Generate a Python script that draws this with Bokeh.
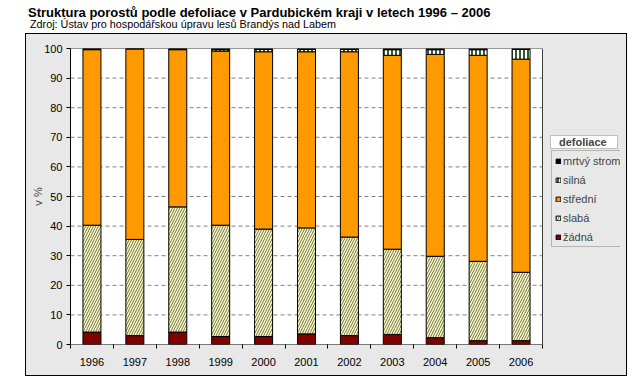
import numpy as np
from bokeh.plotting import figure
from bokeh.layouts import column
from bokeh.models import (ColumnDataSource, Range1d, FixedTicker, Legend, LegendItem, Div)
from bokeh.embed import file_html
from bokeh.resources import INLINE

years = ["1996", "1997", "1998", "1999", "2000", "2001", "2002", "2003", "2004", "2005", "2006"]
zadna = [4.2, 3.0, 4.2, 2.7, 2.7, 3.6, 3.0, 3.4, 2.3, 1.3, 1.3]
slaba = [36.1, 32.5, 42.3, 37.6, 36.3, 35.8, 33.3, 28.8, 27.5, 26.8, 23.1]
stredni = [59.3, 64.4, 53.1, 58.8, 59.9, 59.5, 62.6, 65.5, 68.2, 69.6, 72.0]
silna = [0.2, 0.0, 0.2, 0.5, 0.8, 0.8, 0.8, 1.9, 1.6, 1.9, 3.3]
mrtvy = [0.2, 0.1, 0.2, 0.4, 0.3, 0.3, 0.3, 0.4, 0.4, 0.4, 0.3]
series_names = ["žádná", "slabá", "střední", "silná", "mrtvý strom"]
legend_title = "defoliace"
y_ticks = [0, 10, 20, 30, 40, 50, 60, 70, 80, 90, 100]

title_text = "Struktura porostů podle defoliace v Pardubickém kraji v letech 1996 – 2006"
subtitle_text = "Zdroj: Ústav pro hospodářskou úpravu lesů Brandýs nad Labem"

FONT = "Liberation Sans"
GRAY = "#e8e8e8"

# ---- title strip (white band above the chart area) ----
title_html = (
    '<div style="position:relative;width:627px;height:33px;'
    "font-family:'Liberation Sans',Arial,sans-serif;color:black;\">"
    '<div style="position:absolute;left:28px;top:6px;font-weight:bold;font-size:13px;'
    f'line-height:13px;white-space:nowrap;">{title_text}</div>'
    '<div style="position:absolute;left:30px;top:19px;font-size:10.8px;'
    f'line-height:11px;white-space:nowrap;">{subtitle_text}</div></div>'
)
t = Div(text=title_html, width=627, height=33, margin=0)

# ---- main chart ----
n = len(years)
xc = np.arange(n) + 0.5
data = {"x": xc}
vals = [zadna, slaba, stredni, silna, mrtvy]
cum = np.zeros(n)
for i, v in enumerate(vals):
    data[f"b{i}"] = cum.copy()
    cum = cum + np.array(v)
    data[f"t{i}"] = cum.copy()
src = ColumnDataSource(data)

# frame spans the plot area plus the legend column (plot area = 472 of 550 px)
PLOT_W, FRAME_W = 472, 550
ymax = y_ticks[-1]
p = figure(width=602, height=343, output_backend="svg", toolbar_location=None,
           x_range=Range1d(0, n * FRAME_W / PLOT_W), y_range=Range1d(0, ymax),
           min_border_left=45, min_border_right=602 - 45 - FRAME_W,
           min_border_top=15, min_border_bottom=32,
           background_fill_color=GRAY, background_fill_alpha=0,
           border_fill_color=GRAY, border_fill_alpha=0,
           outline_line_color=None, margin=(0, 0, 0, 25),
           styles={"background-color": GRAY, "outline": "1px solid black",
                   "outline-offset": "-1px"})
p.grid.visible = False

# plot area (white) and dashed gridlines
p.quad(left=[0], right=[n], bottom=[0], top=[ymax], fill_color="white", line_color=None)
gy = y_ticks[1:-1]
p.segment(x0=[0] * len(gy), x1=[n] * len(gy), y0=gy, y1=gy,
          line_color="#808080", line_dash="4 3", line_width=1)

styles = [
    dict(fill_color="#800000"),
    dict(fill_color="#ffffcc", hatch_pattern="/", hatch_color="#6e6e46", hatch_scale=5, hatch_weight=1),
    dict(fill_color="#ff9900"),
    dict(fill_color="#ffffff", hatch_pattern="|", hatch_color="#003300", hatch_scale=4, hatch_weight=1.6),
    dict(fill_color="#000000"),
]
renderers = []
for i in range(5):
    r = p.vbar(x="x", width=0.42, bottom=f"b{i}", top=f"t{i}", source=src,
               line_color="black", line_width=1, **styles[i])
    renderers.append(r)

# plot area border: top/right dark gray, bottom black (axis line)
p.line(x=[0, n, n], y=[ymax, ymax, 0], line_color="#404040", line_width=1)
p.line(x=[0, n], y=[0, 0], line_color="black", line_width=1)

# axes
p.xaxis.ticker = FixedTicker(ticks=list(xc), minor_ticks=list(np.arange(n + 1)))
p.xaxis.major_label_overrides = {float(x): y for x, y in zip(xc, years)}
p.xaxis.major_tick_line_color = None
p.xaxis.major_tick_out = 0
p.xaxis.minor_tick_line_color = "black"
p.xaxis.minor_tick_out = 4
p.xaxis.minor_tick_in = 0
p.xaxis.major_label_standoff = 9
p.xaxis.axis_line_color = None

p.yaxis.ticker = FixedTicker(ticks=y_ticks)
p.yaxis.major_tick_out = 4
p.yaxis.major_tick_in = 0
p.yaxis.major_label_standoff = 4
p.yaxis.minor_tick_line_color = None
p.yaxis.axis_label = "v %"
p.yaxis.axis_label_standoff = -3
p.yaxis.axis_label_text_font = FONT
p.yaxis.axis_label_text_font_size = "11px"
p.yaxis.axis_label_text_font_style = "normal"
p.yaxis.axis_line_color = "black"

for ax in (p.xaxis, p.yaxis):
    ax.major_label_text_font = FONT
    ax.major_label_text_font_size = "11px"
    ax.major_label_text_color = "black"

items = [LegendItem(label=series_names[i], renderers=[renderers[i]]) for i in [4, 3, 2, 1, 0]]
legend = Legend(items=items, location=(481, 97), orientation="vertical",
                label_text_font=FONT, label_text_font_size="11px",
                glyph_width=6, glyph_height=6, label_height=13, label_standoff=2,
                spacing=6, padding=3, margin=0,
                background_fill_color=GRAY, background_fill_alpha=0,
                border_line_color="#808080", border_line_width=1)
p.add_layout(legend, "center")

# separate white title box above the legend (one-item legend, invisible glyph)
ghost = p.vbar(x=[xc[0]], width=0.1, bottom=[0], top=[0], fill_alpha=0, line_alpha=0)
title_box = Legend(items=[LegendItem(label=legend_title, renderers=[ghost])],
                   location=(480, 195), orientation="vertical",
                   label_text_font=FONT, label_text_font_size="11px", label_text_font_style="bold",
                   glyph_width=0, glyph_height=1, label_height=11, label_width=58, label_standoff=8,
                   spacing=0, padding=0, margin=0,
                   background_fill_color="white", background_fill_alpha=1,
                   border_line_color="#808080", border_line_width=1)
p.add_layout(title_box, "center")

layout = column(t, p, spacing=0)
open("out.html", "w").write(file_html(layout, INLINE))
